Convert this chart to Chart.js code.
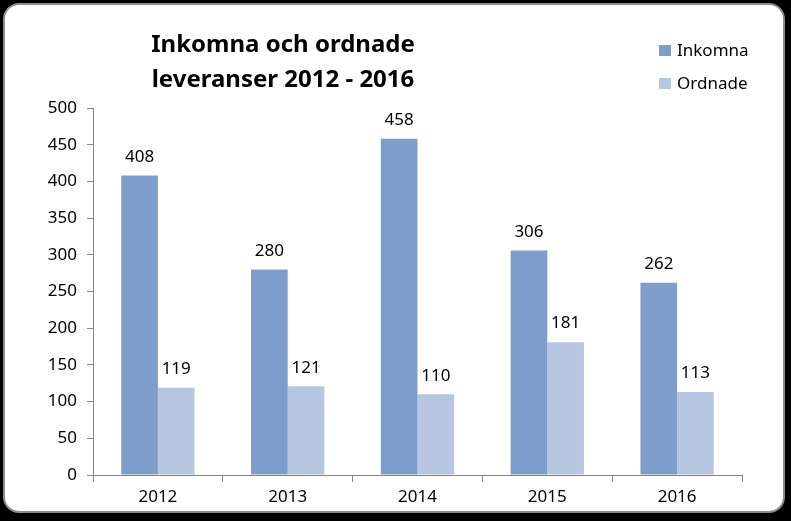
<!DOCTYPE html>
<html>
<head>
<meta charset="utf-8">
<script src="https://cdn.jsdelivr.net/npm/chart.js@4.4.1/dist/chart.umd.min.js"></script>
<style>
  html, body { margin: 0; padding: 0; background: #000; }
  #frame {
    position: absolute; left: 3px; top: 3px; width: 778px; height: 506px;
    background: #fff; border: 2px solid #8c8c8c; border-radius: 16px;
  }
  #wrap { position: absolute; left: 0; top: 0; width: 791px; height: 521px; }
</style>
</head>
<body>
<div id="frame"></div>
<div id="wrap"><canvas id="chart" width="791" height="521"></canvas></div>
<script>
const years = ['2012', '2013', '2014', '2015', '2016'];
const inkomna = [408, 280, 458, 306, 262];
const ordnade = [119, 121, 110, 181, 113];
const yTicks = [0, 50, 100, 150, 200, 250, 300, 350, 400, 450, 500];
const titleLines = ['Inkomna och ordnade', 'leveranser 2012 - 2016'];

const font = '"Noto Sans", "Open Sans", sans-serif';

// values above each bar
const valueLabels = {
  id: 'valueLabels',
  afterDatasetsDraw(chart) {
    const ctx = chart.ctx;
    ctx.save();
    ctx.font = '17px ' + font;
    ctx.fillStyle = '#000';
    ctx.textAlign = 'center';
    ctx.textBaseline = 'bottom';
    chart.data.datasets.forEach((ds, i) => {
      chart.getDatasetMeta(i).data.forEach((bar, j) => {
        ctx.fillText(ds.data[j], bar.x, bar.y - 10);
      });
    });
    ctx.restore();
  },
};

// title on the left, legend on the right
const header = {
  id: 'header',
  afterDraw(chart) {
    const ctx = chart.ctx;
    ctx.save();
    ctx.font = 'bold 24px ' + font;
    ctx.fillStyle = '#000';
    ctx.textAlign = 'center';
    ctx.textBaseline = 'middle';
    ctx.fillText(titleLines[0], 283, 45);
    ctx.fillText(titleLines[1], 283, 80);

    ctx.font = '17px ' + font;
    ctx.textAlign = 'left';
    chart.data.datasets.forEach((ds, i) => {
      const y = 51 + i * 33;
      ctx.fillStyle = ds.backgroundColor;
      ctx.fillRect(659, y - 6, 12, 11);
      ctx.fillStyle = '#000';
      ctx.fillText(ds.label, 677, y);
    });
    ctx.restore();
  },
};

new Chart(document.getElementById('chart'), {
  type: 'bar',
  data: {
    labels: years,
    datasets: [
      { label: 'Inkomna', data: inkomna, backgroundColor: '#7e9dca' },
      { label: 'Ordnade', data: ordnade, backgroundColor: '#b7c6e1' },
    ],
  },
  options: {
    responsive: false,
    animation: false,
    layout: { padding: { top: 108, right: 49, left: 0, bottom: 0 } },
    datasets: { bar: { categoryPercentage: 0.565, barPercentage: 1 } },
    plugins: { legend: { display: false }, title: { display: false }, tooltip: { enabled: false } },
    scales: {
      x: {
        grid: { offset: true, drawOnChartArea: false, color: '#868686', tickLength: 7 },
        border: { color: '#868686' },
        ticks: { color: '#000', font: { size: 17, family: font }, padding: 5 },
        afterFit(scale) { scale.height = 46; },
      },
      y: {
        min: 0,
        max: 500,
        afterBuildTicks(scale) { scale.ticks = yTicks.map((v) => ({ value: v })); },
        grid: { drawOnChartArea: false, color: '#868686', tickLength: 6 },
        border: { color: '#868686' },
        ticks: { color: '#000', font: { size: 17, family: font }, padding: 10 },
        afterFit(scale) { scale.width = 93; },
      },
    },
  },
  plugins: [valueLabels, header],
});
</script>
</body>
</html>
